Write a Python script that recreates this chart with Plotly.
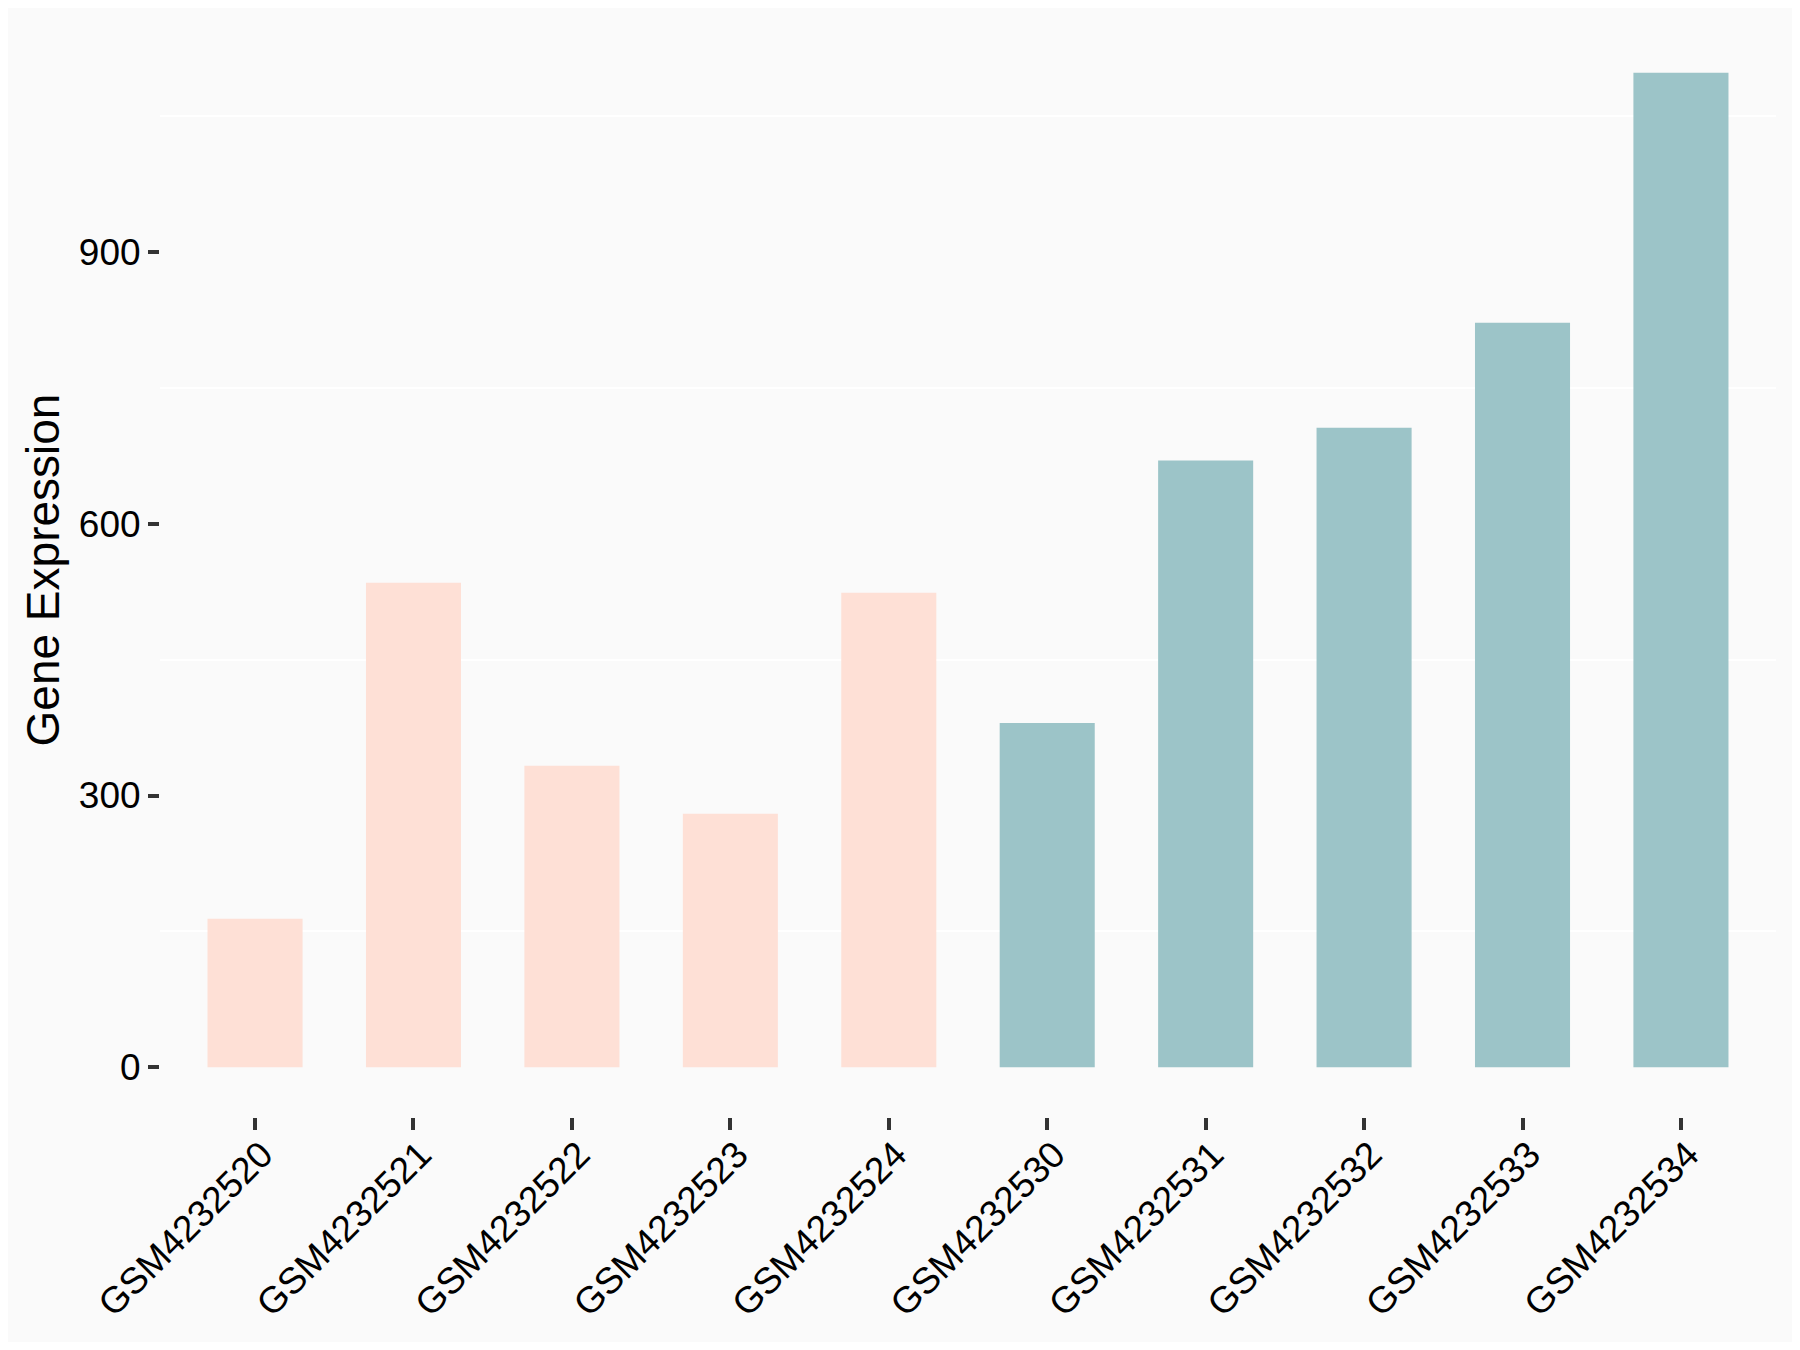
import plotly.graph_objects as go

samples = ["GSM4232520", "GSM4232521", "GSM4232522", "GSM4232523", "GSM4232524",
           "GSM4232530", "GSM4232531", "GSM4232532", "GSM4232533", "GSM4232534"]
expression = [164, 535, 333, 280, 524, 380, 670, 706, 822, 1098]
groups = ["A", "A", "A", "A", "A", "B", "B", "B", "B", "B"]
group_colors = {"A": "#FEE0D6", "B": "#9CC4C8"}
y_ticks = [0, 300, 600, 900]
y_minor = [150, 450, 750, 1050]

FONT = "Liberation Sans, Arial, sans-serif"

fig = go.Figure()
fig.add_trace(go.Bar(
    x=samples,
    y=expression,
    marker=dict(color=[group_colors[g] for g in groups], line=dict(width=0)),
    width=0.6,
    showlegend=False,
))

ymax = max(expression)
pad = ymax * 0.05

fig.update_layout(
    width=1784,
    height=1334,
    paper_bgcolor="#FAFAFA",
    plot_bgcolor="#FAFAFA",
    margin=dict(l=152, r=16, t=15, b=225, pad=0),
    font=dict(family=FONT, color="black"),
    bargap=0.4,
)

fig.update_xaxes(
    range=[-0.6, len(samples) - 0.4],
    showgrid=False,
    zeroline=False,
    showline=False,
    ticks="outside",
    ticklen=12,
    tickwidth=3.5,
    tickcolor="#333333",
    tickangle=-45,
    tickfont=dict(size=37, color="black", family=FONT),
    ticklabelstandoff=-12,
    ticklabelshift=7,
)

fig.update_yaxes(
    range=[-pad, ymax + pad],
    tickvals=y_ticks,
    showgrid=False,
    zeroline=False,
    showline=False,
    ticks="outside",
    ticklen=11,
    tickwidth=3.5,
    tickcolor="#333333",
    tickfont=dict(size=37, color="black", family=FONT),
    ticklabelstandoff=0,
    title=dict(text="Gene Expression", font=dict(size=46, color="black", family=FONT), standoff=4),
    minor=dict(tickvals=y_minor, showgrid=True, gridcolor="white", gridwidth=2, ticks=""),
)

fig.write_html("out.html")
